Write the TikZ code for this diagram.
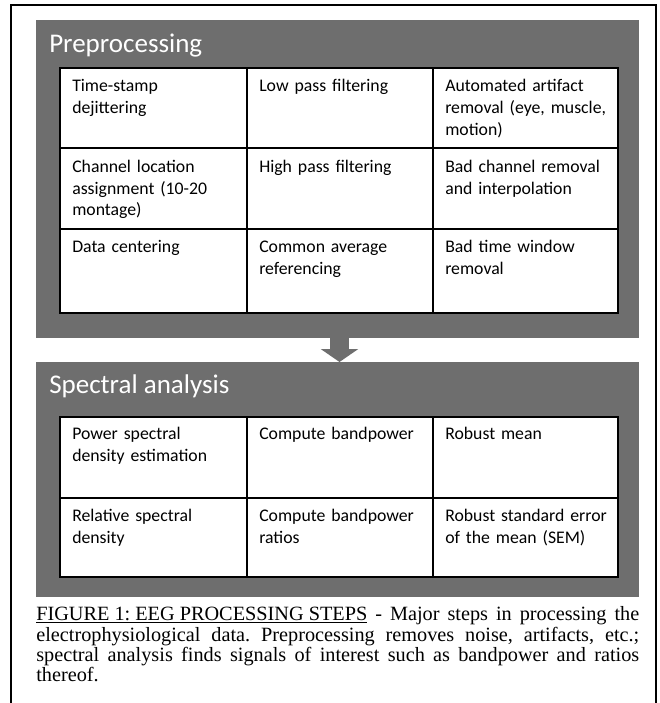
\documentclass[tikz,border=0pt]{standalone}
\usepackage{fontspec}
\setmainfont{Carlito}
\newfontfamily\capfont{Liberation Serif}
\usetikzlibrary{arrows.meta}
\definecolor{panelgray}{RGB}{110,110,110}
\tikzset{
  panel/.style={fill=panelgray, inner sep=0pt, outer sep=0pt, anchor=north west},
  paneltitle/.style={anchor=base west, inner sep=0pt, text=white, font=\fontsize{20.25}{24}\selectfont},
  cell/.style={anchor=north west, inner sep=0pt, text width=130pt, align=left,
               font=\fontsize{13.3}{16.3}\selectfont, execute at begin node=\strut},
  grid/.style={fill=white, line width=1pt},
}
\begin{document}
\begin{tikzpicture}[x=0.75pt,y=-0.75pt]
    \useasboundingbox (0,0) rectangle (660,703);
    \draw[line width=1.5pt] (11,703) |- (656,5) -- (656,703);
    %
    \node[panel, minimum width=452.25pt, minimum height=238.5pt] (pre) at (36,20) {};
    \node[paneltitle] (pretitle) at (49,52) {Preprocessing};
    \draw[grid] (60,68) rectangle (247,148);   \draw(72,76.5) node[cell] (p11) {Time-stamp\\dejittering};
    \draw[grid] (247,68) rectangle (433,148);  \draw(259,76.5) node[cell] (p12) {Low pass filtering};
    \draw[grid] (433,68) rectangle (618,148);  \draw(445,76.5) node[cell] (p13) {Automated artifact\\removal (eye, muscle,\\motion)};
    %
    \draw[grid] (60,148) rectangle (247,229);  \draw(72,157) node[cell] (p21) {Channel location\\assignment (10-20\\montage)};
    \draw[grid] (247,148) rectangle (433,229); \draw(259,157) node[cell] (p22) {High pass filtering};
    \draw[grid] (433,148) rectangle (618,229); \draw(445,157) node[cell] (p23) {Bad channel removal\\and interpolation};
    %
    \draw[grid] (60,229) rectangle (247,313);  \draw(72,237.5) node[cell] (p31) {Data centering};
    \draw[grid] (247,229) rectangle (433,313); \draw(259,237.5) node[cell] (p32) {Common average\\referencing};
    \draw[grid] (433,229) rectangle (618,313); \draw(445,237.5) node[cell] (p33) {Bad time window\\removal};
    %
    \node[panel, minimum width=452.25pt, minimum height=176.25pt] (spec) at (36,362) {};
    \node[paneltitle] (spectitle) at (49,393) {Spectral analysis};
    \draw[grid] (60,417) rectangle (247,498);  \draw(72,424.5) node[cell] (s11) {Power spectral\\density estimation};
    \draw[grid] (247,417) rectangle (433,498); \draw(259,424.5) node[cell] (s12) {Compute bandpower};
    \draw[grid] (433,417) rectangle (618,498); \draw(445,424.5) node[cell] (s13) {Robust mean};
    %
    \draw[grid] (60,498) rectangle (247,577);  \draw(72,506) node[cell] (s21) {Relative spectral\\density};
    \draw[grid] (247,498) rectangle (433,577); \draw(259,506) node[cell] (s22) {Compute bandpower\\ratios};
    \draw[grid] (433,498) rectangle (618,577); \draw(445,506) node[cell] (s23) {Robust standard error\\of the mean (SEM)};
    %
    \draw[panelgray, line width=14.25pt, -{Triangle[width=27.75pt, length=9.75pt]}]
        ([xshift=1.5pt]pre.south) -- ([xshift=1.5pt]spec.north);
    %
    \node[anchor=north west, inner sep=0pt, text width=452.25pt, align=justify,
          font=\capfont\fontsize{15.2}{15}\selectfont\frenchspacing] (caption) at (36,606)
        {\strut\underline{FIGURE 1: EEG PROCESSING STEPS} - Major steps in processing the\linebreak
         electrophysiological data. Preprocessing removes noise, artifacts, etc.;\linebreak
         spectral analysis finds signals of interest such as bandpower and ratios\linebreak
         thereof.};
\end{tikzpicture}
\end{document}
